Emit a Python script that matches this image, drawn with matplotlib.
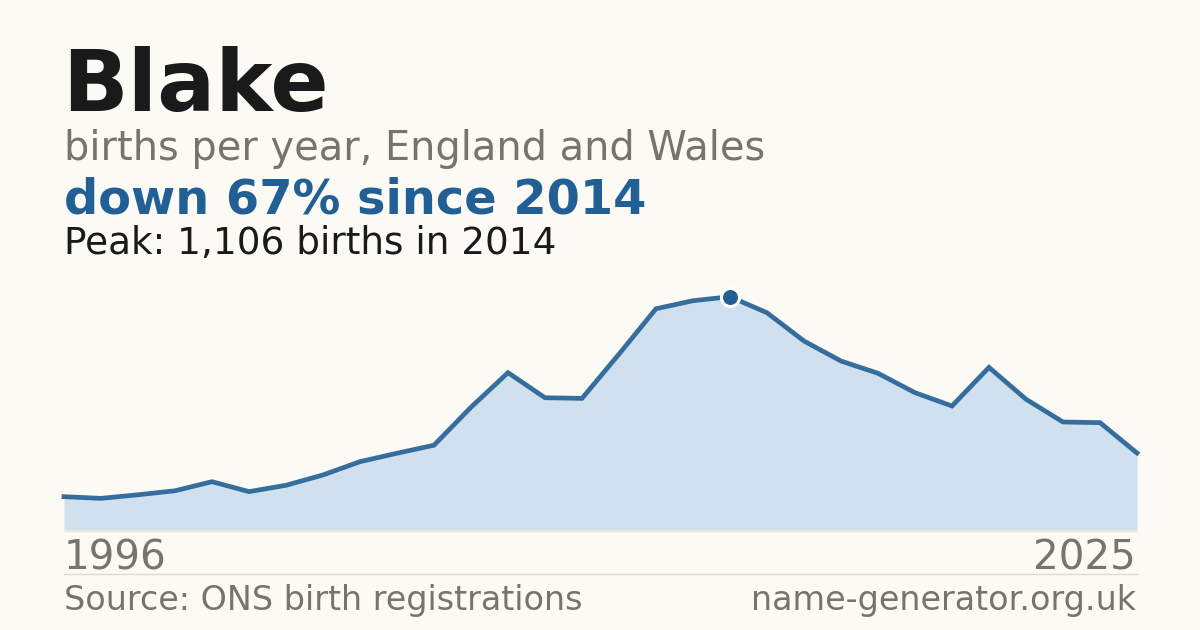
import matplotlib
matplotlib.use("Agg")
import matplotlib.pyplot as plt
from matplotlib.lines import Line2D

years = list(range(1996, 2026))
births = [158, 150, 167, 186, 229, 182, 212, 261, 324, 364,
          402, 582, 746, 627, 624, 834, 1049, 1087, 1106, 1030,
          896, 801, 743, 651, 588, 771, 620, 512, 509, 365]

name = "Blake"
subtitle = "births per year, England and Wales"
headline = "down 67% since 2014"
peak_note = "Peak: 1,106 births in 2014"
source = "Source: ONS birth registrations"
site = "name-generator.org.uk"

bg = "#fbfaf5"
blue = "#215f94"
grey = "#78736c"

W, H = 1200, 630
fig = plt.figure(figsize=(12, 6.3), dpi=100, facecolor=bg)
plt.rcParams['font.family'] = ['DejaVu Sans']

def fx(px):
    return px / W

def fy(py):
    return 1 - py / H

ax = fig.add_axes([fx(64), fy(530), fx(1137 - 64), (530 - 280) / H])
ax.set_facecolor("none")
ax.fill_between(years, births, 0, color="#d0e0ef", lw=0, clip_on=False)
ax.plot(years, births, color=blue, lw=3.4, alpha=0.9, solid_joinstyle="miter",
        clip_on=False)
# peak marker
peak_i = births.index(max(births))
ax.plot(years[peak_i], births[peak_i], "o", ms=13, mfc=blue, mec="white",
        mew=2.2, clip_on=False, zorder=5)
ax.set_xlim(years[0], years[-1])
ax.set_ylim(0, 250 / (233.3 / 1106))
ax.axis("off")

# baseline and footer rule
fig.add_artist(Line2D([fx(64), fx(1137)], [fy(530.5), fy(530.5)],
                      color="#ece3d6", lw=1))
fig.add_artist(Line2D([fx(64), fx(1137)], [fy(574), fy(574)],
                      color="#dddad3", lw=1))

fig.text(fx(62), fy(111), name, fontsize=62, fontweight="bold",
         color="#1a1a1a", va="baseline")
fig.text(fx(64), fy(160), subtitle, fontsize=28.7, color=grey, va="baseline")
fig.text(fx(64), fy(214), headline, fontsize=34.5, fontweight="bold",
         color=blue, va="baseline")
fig.text(fx(64), fy(254), peak_note, fontsize=26.9, color="#1a1a1a",
         va="baseline")

fig.text(fx(64), fy(570), str(years[0]), fontsize=29.1, color=grey,
         va="baseline")
fig.text(fx(1136), fy(570), str(years[-1]), fontsize=29.1, color=grey,
         va="baseline", ha="right")
fig.text(fx(64), fy(610), source, fontsize=24, color=grey, va="baseline")
fig.text(fx(1136), fy(610), site, fontsize=24, color=grey, va="baseline",
         ha="right")

fig.savefig("out.png", dpi=100, facecolor=bg)
